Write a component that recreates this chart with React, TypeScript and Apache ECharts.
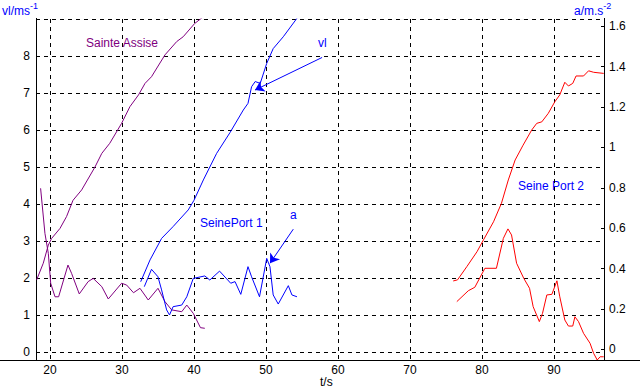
import React, { useEffect, useRef } from "react";
import * as echarts from "echarts";

// Sainte Assise
const saVlT = [18.15, 19.07, 19.77, 20.23, 21.39, 22.3, 23.2, 24.4, 26.25, 27.2, 28.3, 29.95, 31.1, 32.3, 33.2, 34.1, 35.97, 37.6, 38.5, 40.1, 41.3];
const saVlV = [1.95, 2.4, 2.89, 3.07, 3.34, 3.66, 4.1, 4.38, 5.0, 5.37, 5.64, 6.18, 6.63, 6.95, 7.26, 7.44, 8.03, 8.39, 8.52, 8.88, 9.06];
const saAT = [18.7, 19.3, 19.77, 20.1, 20.7, 21.2, 22.5, 23.0, 24.07, 25.3, 26.0, 27.2, 28.1, 29.95, 30.65, 31.6, 32.5, 33.65, 35.0, 35.97, 36.9, 38.3, 39.0, 39.9, 40.9, 41.5];
const saAV = [0.798, 0.575, 0.476, 0.328, 0.261, 0.261, 0.418, 0.377, 0.275, 0.336, 0.352, 0.311, 0.25, 0.328, 0.319, 0.281, 0.303, 0.245, 0.303, 0.237, 0.196, 0.187, 0.22, 0.179, 0.108, 0.105];

// Seine Port 1
const sp1VlT = [32.6, 33.9, 35.5, 37.1, 39.2, 40.0, 41.3, 42.2, 43.15, 45.0, 46.85, 47.5, 48.0, 48.5, 49.2, 50.1, 51.0, 52.4, 54.3];
const sp1VlV = [1.9, 2.49, 3.07, 3.39, 3.84, 4.1, 4.65, 5.0, 5.37, 5.93, 6.54, 6.72, 7.17, 7.31, 7.26, 7.8, 8.2, 8.52, 9.02];
const sp1AT = [33.1, 34.1, 35.0, 35.5, 36.2, 36.6, 37.1, 38.3, 39.0, 39.9, 41.5, 42.2, 43.55, 45.1, 45.7, 46.5, 47.5, 48.0, 49.1, 50.1, 50.55, 51.0, 51.7, 53.1, 53.6, 54.3];
const sp1AV = [0.311, 0.397, 0.36, 0.295, 0.196, 0.171, 0.212, 0.22, 0.261, 0.352, 0.364, 0.344, 0.388, 0.328, 0.336, 0.273, 0.41, 0.36, 0.261, 0.451, 0.41, 0.27, 0.225, 0.316, 0.27, 0.261];

// Seine Port 2
const sp2VlT = [76.0, 76.6, 77.9, 79.3, 80.2, 81.6, 82.7, 83.65, 84.6, 85.7, 86.9, 87.6, 88.3, 89.2, 90.1, 90.8, 91.5, 92.0, 92.6, 93.06, 94.1, 94.8, 95.5, 96.9];
const sp2VlV = [1.92, 1.95, 2.31, 2.71, 3.03, 3.52, 4.02, 4.65, 5.19, 5.59, 6.0, 6.18, 6.22, 6.45, 6.76, 6.95, 7.29, 7.19, 7.26, 7.46, 7.46, 7.6, 7.56, 7.53];
const sp2AT = [76.5, 78.1, 79.0, 80.4, 82.0, 82.96, 83.6, 84.1, 84.8, 85.8, 86.6, 87.1, 87.96, 88.4, 89.0, 89.7, 90.4, 90.8, 91.5, 92.0, 92.6, 92.9, 93.4, 94.1, 95.0, 95.5, 96.0, 96.4, 96.9];
const sp2AV = [0.237, 0.291, 0.308, 0.402, 0.402, 0.55, 0.597, 0.567, 0.427, 0.352, 0.303, 0.212, 0.138, 0.179, 0.27, 0.273, 0.34, 0.261, 0.146, 0.116, 0.116, 0.162, 0.138, 0.08, 0.031, -0.019, -0.052, -0.036, -0.036];

// annotation arrows (t, vl)
const vlArrow = [[57.79, 7.96], [48.47, 7.08]];
const aArrow = [[53.79, 3.32], [50.56, 2.4]];

const PURPLE = "#800080";
const BLUE = "#0000FF";
const RED = "#FF0000";
const FONT = "'Liberation Sans', Arial, sans-serif";

const zip = (t: number[], v: number[]) => t.map((x, i) => [x, v[i]]);

export default function App() {
  const ref = useRef<HTMLDivElement>(null);
  useEffect(() => {
    if (!ref.current) return;
    const chart = echarts.init(ref.current, undefined, { renderer: "svg" });
    const dashed = { color: "#000", width: 1, type: [4, 4] as any };
    const line = (name: string, data: number[][], color: string, yAxisIndex: number, extra: any = {}) => ({
      name,
      type: "line",
      data,
      yAxisIndex,
      showSymbol: false,
      symbol: "none",
      lineStyle: { color, width: 1 },
      itemStyle: { color },
      clip: true,
      silent: true,
      ...extra,
    });
    chart.setOption({
      animation: false,
      backgroundColor: "#fff",
      grid: { left: 36, right: 36, top: 19, bottom: 30, containLabel: false },
      xAxis: {
        type: "value",
        min: 18.06,
        max: 96.94,
        splitNumber: 8,
        minInterval: 10,
        maxInterval: 10,
        axisLine: { show: false },
        axisTick: { show: false },
        axisLabel: {
          color: "#000",
          fontFamily: FONT,
          fontSize: 12,
          margin: 4,
          showMinLabel: false,
          showMaxLabel: false,
          formatter: (v: number) => (Math.abs(v % 10) < 1e-6 ? String(v) : ""),
        },
        splitLine: { show: true, lineStyle: dashed },
      },
      yAxis: [
        {
          type: "value",
          min: -0.216,
          max: 9,
          minInterval: 1,
          maxInterval: 1,
          splitNumber: 9,
          axisLine: { show: false },
          axisTick: { show: false },
          axisLabel: {
            color: "#000",
            fontFamily: FONT,
            fontSize: 12,
            margin: 6,
            showMinLabel: false,
            formatter: (v: number) => (Math.abs(v - Math.round(v)) < 1e-6 && v < 8.5 ? String(Math.round(v)) : ""),
          },
          splitLine: { show: true, lineStyle: dashed },
        },
        {
          type: "value",
          position: "right",
          min: -0.052,
          max: 1.636,
          minInterval: 0.2,
          maxInterval: 0.2,
          splitNumber: 8,
          axisLine: { show: false },
          axisTick: { show: true, inside: true, length: 3, lineStyle: { color: "#000" } },
          axisLabel: {
            color: "#000",
            fontFamily: FONT,
            fontSize: 12,
            margin: 5,
            showMinLabel: false,
            showMaxLabel: false,
            formatter: (v: number) => String(Math.round(v * 10) / 10),
          },
          splitLine: { show: false },
        },
      ],
      series: [
        line("Sainte Assise vl", zip(saVlT, saVlV), PURPLE, 0),
        line("Sainte Assise a", zip(saAT, saAV), PURPLE, 1),
        line("Seine Port 1 vl", zip(sp1VlT, sp1VlV), BLUE, 0, {
          markLine: {
            silent: true,
            animation: false,
            symbol: ["none", "arrow"],
            symbolSize: 9,
            label: { show: false },
            lineStyle: { color: BLUE, width: 1, type: "solid" },
            itemStyle: { color: BLUE },
            data: [
              [{ coord: vlArrow[0] }, { coord: vlArrow[1] }],
              [{ coord: aArrow[0] }, { coord: aArrow[1] }],
            ],
          },
        }),
        line("Seine Port 1 a", zip(sp1AT, sp1AV), BLUE, 1),
        line("Seine Port 2 vl", zip(sp2VlT, sp2VlV), RED, 0),
        line("Seine Port 2 a", zip(sp2AT, sp2AV), RED, 1),
      ],
      graphic: [
        { type: "line", shape: { x1: 0, y1: 360.5, x2: 640, y2: 360.5 }, style: { stroke: "#000", lineWidth: 1 } },
        { type: "line", shape: { x1: 36.5, y1: 18, x2: 36.5, y2: 360 }, style: { stroke: "#000", lineWidth: 1 } },
        { type: "line", shape: { x1: 604.5, y1: 18, x2: 604.5, y2: 360 }, style: { stroke: "#000", lineWidth: 1 } },
        {
          type: "text",
          left: 2,
          top: 1,
          style: {
            text: "{m|vl/ms}{s|-1}",
            fill: BLUE,
            rich: {
              m: { fontSize: 12, fontFamily: FONT, fill: BLUE, verticalAlign: "bottom", lineHeight: 16 },
              s: { fontSize: 9, fontFamily: FONT, fill: BLUE, verticalAlign: "top", lineHeight: 10 },
            },
          },
        },
        {
          type: "text",
          left: 574,
          top: 1,
          style: {
            text: "{m|a/m.s}{s|-2}",
            fill: BLUE,
            rich: {
              m: { fontSize: 12, fontFamily: FONT, fill: BLUE, verticalAlign: "bottom", lineHeight: 16 },
              s: { fontSize: 9, fontFamily: FONT, fill: BLUE, verticalAlign: "top", lineHeight: 10 },
            },
          },
        },
        { type: "text", left: 320, top: 376, style: { text: "t/s", fill: "#000", font: `12px ${FONT}` } },
        { type: "text", left: 86, top: 37, style: { text: "Sainte Assise", fill: PURPLE, font: `12px ${FONT}` } },
        { type: "text", left: 200, top: 217, style: { text: "SeinePort 1", fill: BLUE, font: `12px ${FONT}` } },
        { type: "text", left: 518, top: 180, style: { text: "Seine Port 2", fill: BLUE, font: `12px ${FONT}` } },
        { type: "text", left: 318, top: 37, style: { text: "vl", fill: BLUE, font: `12px ${FONT}` } },
        { type: "text", left: 290, top: 209, style: { text: "a", fill: BLUE, font: `12px ${FONT}` } },
      ],
    });
    return () => chart.dispose();
  }, []);
  return <div ref={ref} style={{ position: "fixed", left: 0, top: 0, width: 640, height: 390 }} />;
}
